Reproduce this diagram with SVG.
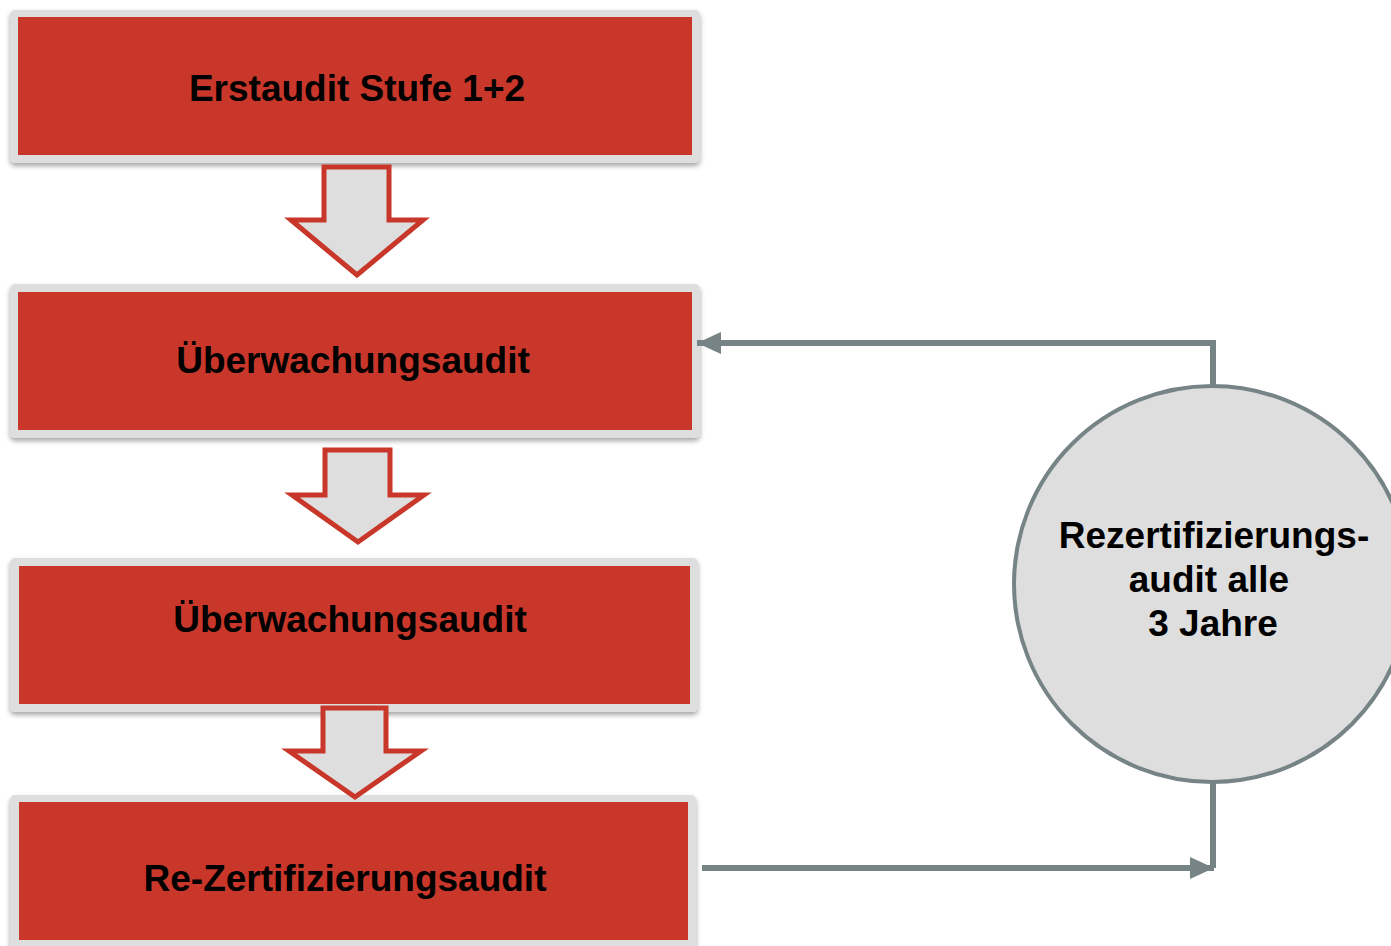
<svg xmlns="http://www.w3.org/2000/svg" width="1391" height="946" viewBox="0 0 1391 946">
<style>
.frame{fill:#dedede;filter:url(#sh)}
.red{fill:#c8372a}
.lbl{font-family:"Liberation Sans",Arial,sans-serif;font-weight:bold;font-size:37px;fill:#000;text-anchor:middle}
.down{fill:#dedede;stroke:#c8372a;stroke-width:5;stroke-linejoin:miter}
.conn{fill:none;stroke:#778486;stroke-width:6}
</style>
<defs>
<filter id="sh" x="-5%" y="-10%" width="110%" height="130%">
<feDropShadow dx="0" dy="3" stdDeviation="2.5" flood-color="#000" flood-opacity="0.35"/>
</filter>
<marker id="ah" viewBox="0 0 24 22" refX="24" refY="11" markerWidth="24" markerHeight="22" markerUnits="userSpaceOnUse" orient="auto">
<path d="M0,0 L24,11 L0,22 Z" fill="#778486"/>
</marker>
</defs>
<g id="n1">
<rect class="frame" x="10" y="10" width="690" height="153" rx="5"/>
<rect class="red" x="18" y="17" width="674" height="138"/>
<text class="lbl" x="357" y="101">Erstaudit Stufe 1+2</text>
</g>
<g id="n2">
<rect class="frame" x="10" y="284" width="690" height="154" rx="5"/>
<rect class="red" x="18" y="292" width="674" height="138"/>
<text class="lbl" x="353" y="373">Überwachungsaudit</text>
</g>
<g id="n3">
<rect class="frame" x="10" y="558" width="688" height="154" rx="5"/>
<rect class="red" x="19" y="566" width="671" height="138"/>
<text class="lbl" x="350" y="632">Überwachungsaudit</text>
</g>
<g id="n4">
<rect class="frame" x="10" y="795" width="686" height="160" rx="5"/>
<rect class="red" x="19" y="802" width="669" height="138"/>
<text class="lbl" x="345" y="891">Re-Zertifizierungsaudit</text>
</g>
<g id="n5">
<circle cx="1212" cy="584" r="198" fill="#dedede" stroke="#778486" stroke-width="4"/>
<text class="lbl"><tspan x="1214" y="548">Rezertifizierungs-</tspan><tspan x="1209" y="592">audit alle</tspan><tspan x="1213" y="636">3 Jahre</tspan></text>
</g>
<g id="connectors">
<path class="conn" d="M1213,386 V343 H697" marker-end="url(#ah)"/>
<path class="conn" d="M1213,782 V868"/>
<path class="conn" d="M702,868 H1214" marker-end="url(#ah)"/>
<path class="down" d="M324,167 H389 V220 H423 L357,275 L291,220 H324 Z"/>
<path class="down" d="M325,450 H390 V495 H424 L358,542 L292,495 H325 Z"/>
<path class="down" d="M323,708 H386 V751 H421 L355,797 L289,751 H323 Z"/>
</g>
</svg>
